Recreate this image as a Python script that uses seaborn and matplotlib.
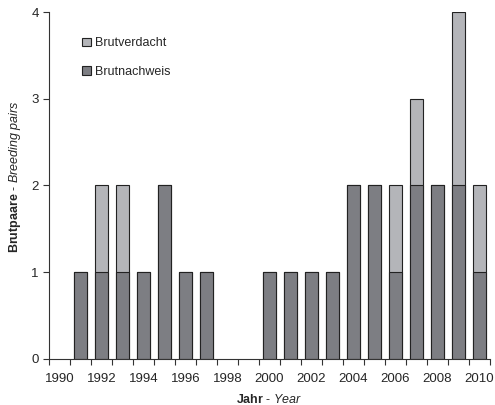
import matplotlib
matplotlib.use("Agg")
import matplotlib.pyplot as plt
import numpy as np
import pandas as pd
import seaborn as sns
from matplotlib.ticker import FixedLocator

years = list(range(1990, 2011))
nachweis = [0, 1, 1, 1, 1, 2, 1, 1, 0, 0, 1, 1, 1, 1, 2, 2, 1, 2, 2, 2, 1]
verdacht = [0, 0, 1, 1, 0, 0, 0, 0, 0, 0, 0, 0, 0, 0, 0, 0, 1, 1, 0, 2, 1]

df = pd.DataFrame({"Jahr": [str(y) for y in years],
                   "Brutnachweis": nachweis,
                   "Brutverdacht": verdacht})
df["gesamt"] = df["Brutnachweis"] + df["Brutverdacht"]

sns.set_style("ticks")
plt.rcParams["font.family"] = ["Liberation Sans", "DejaVu Sans"]
plt.rcParams["mathtext.fontset"] = "custom"
plt.rcParams["mathtext.rm"] = "Liberation Sans"
plt.rcParams["mathtext.it"] = "Liberation Sans:italic"
plt.rcParams["mathtext.bf"] = "Liberation Sans:bold"

dark = "#7d7e83"
light = "#b4b5b9"

fig = plt.figure(figsize=(4.95, 4.05), dpi=100)
ax = fig.add_axes([0.099, 0.114, 0.891, 0.856])

sns.barplot(data=df, x="Jahr", y="gesamt", color=light, width=0.66,
            edgecolor="#222222", linewidth=0.8, saturation=1, ax=ax,
            label="Brutverdacht")
sns.barplot(data=df, x="Jahr", y="Brutnachweis", color=dark, width=0.66,
            edgecolor="#222222", linewidth=0.8, saturation=1, ax=ax,
            label="Brutnachweis")
# empty years: no outline
for p in ax.patches:
    if p.get_height() == 0:
        p.set_linewidth(0)

ax.set_xlim(-0.5, len(years) - 0.5)
ax.set_ylim(0, 4)
ax.set_yticks([0, 1, 2, 3, 4])

ax.set_xticks(range(0, len(years), 2))
ax.set_xticklabels([str(y) for y in years[::2]])
ax.tick_params(axis="x", which="major", length=0, pad=10)
ax.xaxis.set_minor_locator(FixedLocator(np.arange(-0.5, len(years), 1)))
ax.tick_params(axis="x", which="minor", length=4, width=0.8, color="#333333")
ax.tick_params(axis="y", length=4, width=0.8, color="#333333")
ax.tick_params(labelsize=9.5)

sns.despine(ax=ax)
for s in ["left", "bottom"]:
    ax.spines[s].set_linewidth(0.8)
    ax.spines[s].set_color("#333333")

ax.set_xlabel(r"$\mathbf{Jahr}$ - $\mathit{Year}$", fontsize=9, labelpad=6)
ax.set_ylabel(r"$\mathbf{Brutpaare}$ - $\mathit{Breeding\ pairs}$", fontsize=9)
ax.yaxis.set_label_coords(-0.058, 0.525)

h, l = ax.get_legend_handles_labels()
leg = ax.legend(h[:2], l[:2], loc="upper left", bbox_to_anchor=(0.05, 0.96),
                frameon=False, fontsize=9, handlelength=0.7, handleheight=0.7,
                labelspacing=1.3, handletextpad=0.3)
for hd in leg.legend_handles:
    hd.set_edgecolor("#222222")
    hd.set_linewidth(0.8)

fig.savefig("out.png", dpi=100)
